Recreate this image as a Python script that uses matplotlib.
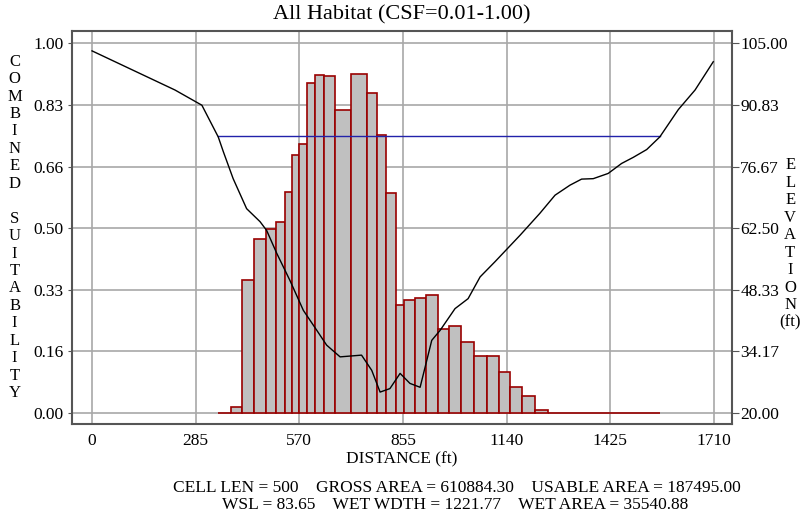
import numpy as np
import matplotlib
matplotlib.use('Agg')
import matplotlib.pyplot as plt

plt.rcParams['font.family'] = ['Liberation Serif', 'DejaVu Serif']

# histogram of combined suitability along the cross-section
bar_edges = [347, 381, 413, 446, 478, 506, 531, 551, 569, 590, 613, 639, 668, 712,
             755, 783, 808, 835, 858, 888, 917, 950, 982, 1014, 1050, 1085, 1119,
             1149, 1182, 1218, 1254, 1561]
bar_vals = [0.0, 0.015, 0.361, 0.472, 0.499, 0.517, 0.597, 0.698, 0.727, 0.893,
            0.914, 0.911, 0.819, 0.918, 0.866, 0.752, 0.596, 0.292, 0.305, 0.312,
            0.319, 0.226, 0.236, 0.191, 0.154, 0.154, 0.111, 0.070, 0.047, 0.007, 0.0]

# bed profile
dist = [0, 228, 302, 347, 361, 388, 425, 462, 480, 508, 544, 581, 618, 645, 682,
        741, 769, 792, 819, 847, 874, 902, 934, 957, 998, 1034, 1067, 1108, 1177,
        1231, 1273, 1314, 1346, 1378, 1419, 1456, 1488, 1525, 1561, 1612, 1658, 1708]
elev = [103.3, 94.3, 90.8, 83.5, 80.1, 73.9, 67.0, 64.0, 62.0, 56.7, 50.5, 43.6,
        39.0, 35.6, 32.9, 33.3, 29.8, 24.8, 25.6, 29.1, 26.8, 25.9, 36.7, 39.0,
        44.0, 46.3, 51.3, 54.8, 60.9, 65.9, 70.1, 72.4, 73.8, 73.9, 75.1, 77.4,
        78.8, 80.6, 83.5, 89.8, 94.3, 100.8]

wsl = 83.65
wsl_x = [347, 1561]

xticks = [0, 285, 570, 855, 1140, 1425, 1710]
yticks = [0, 1/6, 2/6, 3/6, 4/6, 5/6, 1]
ylabels = ['0.00', '0.16', '0.33', '0.50', '0.66', '0.83', '1.00']
elabels = ['20.00', '34.17', '48.33', '62.50', '76.67', '90.83', '105.00']
emin, emax = 20.0, 105.0

fig = plt.figure(figsize=(8.08, 5.18), dpi=100)
ax = fig.add_axes([0.0887, 0.181, 0.817, 0.759])
ylo, yhi = -0.0306, 1.0336
ax.set_xlim(-56, 1759)
ax.set_ylim(ylo, yhi)

edges = np.array(bar_edges, dtype=float)
ax.bar(edges[:-1], bar_vals, width=np.diff(edges), align='edge',
       color='#c0c0c0', edgecolor='#990000', linewidth=1.2, zorder=3)

ax.set_xticks(xticks)
ax.set_xticklabels([str(t) for t in xticks])
ax.set_yticks(yticks)
ax.set_yticklabels(ylabels)
ax.grid(True, color='#a8a8a8', linewidth=1.2, zorder=0)
ax.set_axisbelow(True)
ax.tick_params(axis='x', length=0, labelsize=12.5, pad=6)
ax.tick_params(axis='y', length=3, labelsize=12.5, color='#555555', pad=3)
for s in ax.spines.values():
    s.set_color('#555555')
    s.set_linewidth(1.5)
ax.set_xlabel('DISTANCE (ft)', fontsize=12.5, labelpad=2)

ax2 = ax.twinx()
ax2.set_ylim(emin + (emax - emin) * ylo, emin + (emax - emin) * yhi)
ax2.set_yticks([emin + (emax - emin) * t for t in yticks])
ax2.set_yticklabels(elabels)
ax2.tick_params(axis='y', length=5, labelsize=12.5, color='#555555', pad=1)
for s in ax2.spines.values():
    s.set_visible(False)
ax2.plot(dist, elev, color='black', linewidth=1.0, zorder=5)
ax2.plot(wsl_x, [wsl, wsl], color='#2222aa', linewidth=1.0, zorder=4)

fig.text(0.497, 0.972, 'All Habitat (CSF=0.01-1.00)', ha='center', va='center', fontsize=16)

left_lab = '\n'.join(list('COMBINED') + [''] + list('SUITABILITY'))
fig.text(0.018, 0.561, left_lab, ha='center', va='center', fontsize=12, linespacing=1.12)
right_lab = '\n'.join(list('ELEVATION') + ['(ft)'])
fig.text(0.978, 0.529, right_lab, ha='center', va='center', fontsize=12, linespacing=1.12)

fig.text(0.566, 0.057, 'CELL LEN = 500    GROSS AREA = 610884.30    USABLE AREA = 187495.00',
         ha='center', va='center', fontsize=12.5)
fig.text(0.563, 0.025, 'WSL = 83.65    WET WDTH = 1221.77    WET AREA = 35540.88',
         ha='center', va='center', fontsize=12.5)

fig.savefig('out.png', dpi=100)
